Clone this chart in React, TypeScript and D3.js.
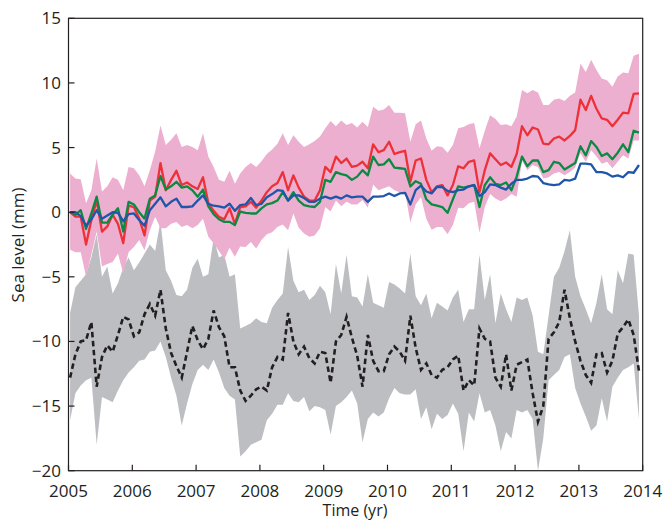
import React from "react";
import * as d3 from "d3";

// Monthly values, Jan 2005 .. Dec 2013 (108 months)
const red = [
  0, -0.35, -0.35, -2.5, -0.6, 0.9, -1.5, -1.1, -0.2, -0.9, -2.4, 0.5, 0.4, -0.5, -1.8, 0.9, 1.2, 3.8, 1.7, 2.5, 3.2, 2.1, 2.3, 2.0, 1.8, 2.7, 0.7, 0.1,
  -0.35, -0.55, 0.3, -0.9, 0.4, 0.45, 0.8, 0.35, 0.9, 1.55, 2.0, 2.25, 3.1, 1.7, 2.85, 1.9, 1.2, 0.9, 0.9, 1.7, 3.5, 3.1, 4.3, 3.8, 4.15, 3.5, 3.6,
  3.9, 3.4, 5.25, 4.65, 4.8, 5.45, 4.5, 4.65, 4.75, 2.35, 4.0, 4.15, 2.5, 1.55, 2.0, 2.1, 1.3, 2.1, 3.55, 3.4, 3.9, 4.0, 1.55, 3.25, 4.55, 4.1, 3.65, 3.85,
  3.5, 4.5, 6.65, 5.95, 6.55, 6.4, 5.3, 5.25, 5.7, 5.85, 5.55, 5.9, 6.35, 8.7, 7.9, 9.0, 8.0, 7.25, 7.15, 6.65, 7.15, 7.7, 7.65, 9.15, 9.2,
];
const green = [
  0, -0.2, 0.15, -1.3, -0.1, 1.2, -0.8, -0.8, -0.2, 0.3, -1.5, 0.8, 0.6, 0, -0.5, 1.05, 1.3, 2.8, 1.75, 2.0, 2.35, 1.9, 2.0, 1.7, 1.2, 1.75, 0.45, -0.15,
  -0.55, -0.75, -0.75, -1.0, 0.05, -0.05, -0.1, -0.1, 0.3, 0.6, 0.7, 0.9, 1.55, 0.9, 1.55, 0.9, 0.55, 0.45, 0.4, 0.8, 2.5, 2.35, 3.1, 2.95, 2.85, 2.5, 2.75,
  3.25, 2.85, 4.3, 3.65, 3.7, 4.1, 3.45, 3.4, 3.35, 2.0, 2.4, 2.2, 1.0, 0.6, 0.5, 0.4, -0.05, 1.0, 2.0, 1.9, 2.0, 2.1, 0.4, 2.1, 2.7, 2.2, 2.1, 2.3,
  1.7, 2.75, 4.3, 3.55, 4.0, 4.0, 3.1, 3.25, 3.9, 3.8, 3.3, 3.55, 3.8, 5.1, 4.4, 5.5, 5.05, 4.35, 4.55, 4.1, 4.6, 5.25, 4.65, 6.3, 6.15,
];
const blue = [
  0, 0, -0.3, -1.05, -0.55, 0.15, -0.5, -0.25, 0, -0.05, -0.7, -0.15, -0.1, -0.6, -1.05, 0.15, 0.65, 1.15, 0.45, 0.8, 1.05, 0.4, 0.4, 0.45, 0.9, 1.3, 0.65, 0.5,
  0.45, 0.35, 0.65, 0.1, 0.55, 0.6, 1.1, 0.55, 0.65, 1.15, 1.4, 1.7, 1.65, 0.9, 1.3, 1.3, 1.1, 0.8, 0.8, 1.05, 1.2, 1.05, 1.2, 1.05, 1.3, 1.15, 1.2,
  1.2, 0.8, 1.2, 1.2, 1.25, 1.45, 1.25, 1.45, 1.5, 0.6, 1.7, 2.05, 1.6, 1.45, 1.95, 1.95, 1.65, 1.55, 1.7, 1.75, 2.0, 2.1, 1.25, 1.55, 2.15, 2.1, 1.9, 1.75,
  2.2, 2.5, 2.5, 2.6, 2.8, 2.75, 2.25, 2.15, 2.1, 2.15, 2.5, 2.45, 2.6, 3.75, 3.75, 3.7, 3.1, 3.1, 3.0, 2.75, 2.85, 2.7, 3.1, 3.05, 3.65,
];
const pinkUpper = [
  3.0, 2.6, 2.55, 0.7, 1.7, 4.15, 1.6, 2.0, 2.7, 2.5, 1.7, 3.5, 3.4, 2.85, 2.0, 3.25, 4.7, 6.7, 5.2, 5.6, 6.1, 5.05, 5.2, 5.05, 4.8, 6.1, 4.3, 3.5,
  2.5, 2.35, 3.2, 2.2, 3.0, 3.5, 3.8, 3.5, 3.95, 4.5, 4.85, 5.3, 6.1, 5.2, 5.95, 5.45, 5.05, 5.25, 5.5, 5.85, 6.5, 7.05, 6.65, 7.1, 6.75, 6.9, 6.55,
  7.0, 6.6, 8.15, 7.85, 7.95, 8.3, 7.7, 7.7, 7.65, 5.45, 6.8, 7.1, 5.7, 4.75, 5.1, 5.05, 4.6, 5.2, 6.5, 6.6, 6.8, 6.9, 4.95, 6.3, 7.5, 7.2, 6.75, 6.8,
  6.65, 7.4, 9.45, 9.2, 9.45, 9.25, 8.3, 8.3, 8.7, 8.8, 8.6, 9.0, 9.25, 11.5, 10.85, 11.8, 11.0, 10.35, 10.2, 9.7, 10.5, 10.8, 10.75, 12.1, 12.25,
];
const pinkLower = [
  -2.9, -3.1, -3.1, -5.0, -3.3, -1.5, -4.2, -4.0, -3.85, -3.2, -4.75, -3.1, -2.7, -2.15, -2.95, -1.4, -0.35, -1.25, -1.25, -0.9, -0.75, -1.15, -1.0, -1.25, -1.0, -0.5, -1.9, -2.4,
  -3.0, -3.65, -2.75, -3.45, -2.65, -2.7, -2.3, -2.8, -2.15, -1.7, -1.55, -1.15, -0.95, -1.4, -0.1, -1.2, -1.65, -1.9, -1.8, -1.25, 0.4, 0.05, 0.9, 0.45, 0.8, 0.6, 0.6,
  0.95, 0.35, 2.15, 1.7, 1.85, 2.0, 1.7, 1.55, 1.55, -0.8, 0.6, 1.15, -0.5, -1.35, -1.15, -1.15, -1.7, -1.0, 0.35, 0.3, 0.7, 0.8, -1.6, 0.4, 1.4, 1.05, 0.85, 1.05,
  1.4, 1.2, 4.0, 3.25, 3.65, 3.5, 2.6, 2.7, 3.0, 3.1, 2.85, 3.1, 3.45, 4.55, 3.9, 4.8, 4.3, 3.75, 3.9, 3.4, 3.9, 4.4, 4.15, 5.55, 5.55,
];
const black = [
  -12.8, -11.0, -10.0, -9.9, -8.5, -13.5, -11.2, -10.3, -10.8, -9.5, -8.1, -8.3, -9.6, -9.3, -7.9, -7.1, -8.0, -6.0, -9.0, -10.9, -11.9, -12.8, -10.8, -8.8, -9.9, -10.6, -9.8, -7.6, -8.9, -9.6, -12.0, -12.0, -13.8, -14.6, -14.2, -13.7,
  -13.5, -13.8, -12.0, -11.2, -11.4, -7.8, -10.0, -11.0, -10.4, -11.3, -11.7, -10.8, -10.9, -13.2, -10.0, -9.5, -8.1, -9.7, -11.1, -13.5, -9.5, -11.5, -12.3, -12.3, -11.0, -10.4, -10.8, -11.5, -8.0, -10.5, -12.2, -11.7, -12.6, -12.8, -12.2, -12.0,
  -11.4, -11.1, -13.8, -13.0, -13.4, -9.0, -9.8, -10.0, -12.8, -13.5, -11.0, -13.8, -11.8, -11.6, -11.4, -14.0, -16.2, -15.0, -9.8, -9.3, -8.5, -6.0, -8.2, -10.0, -11.5, -12.6, -13.2, -11.0, -10.9, -12.4, -11.5, -9.4, -8.9, -8.3, -9.5, -12.3,
];
const greyUpper = [
  -7.8, -5.8, -5.3, -4.8, -3.5, -1.7, -5.0, -4.2, -6.3, -5.5, -4.3, -3.5, -4.5, -3.9, -3.2, -2.5, -3.0, -0.7, -4.5, -5.3, -6.4, -6.5, -6.0, -4.3, -3.6, -5.0, -4.8, -2.0, -3.5, -3.3, -5.0, -4.8, -9.0, -8.8, -8.6, -8.2,
  -8.5, -8.6, -7.4, -6.8, -6.3, -2.7, -5.3, -6.2, -6.0, -6.8, -6.4, -5.7, -6.2, -7.9, -4.0, -6.3, -3.3, -6.5, -6.6, -7.3, -4.8, -7.0, -7.2, -7.4, -5.4, -5.6, -5.9, -6.3, -3.2, -6.5, -7.2, -6.3, -8.2, -7.0, -7.3, -7.6,
  -6.6, -6.0, -8.5, -7.5, -7.5, -3.3, -6.8, -4.8, -8.6, -6.3, -7.5, -8.5, -6.6, -6.8, -6.6, -8.0, -10.8, -11.0, -8.0, -5.0, -4.3, -3.0, -1.4, -5.0, -6.5, -7.5, -8.6, -7.0, -4.8, -7.5, -7.9, -4.5, -5.5, -3.2, -3.3, -8.0,
];
const greyLower = [
  -16.1, -14.0, -13.4, -13.0, -12.8, -18.0, -14.3, -14.5, -14.7, -13.8, -13.0, -12.4, -12.0, -11.5, -11.4, -10.8, -10.7, -10.0, -11.2, -12.8, -14.2, -16.5, -14.8, -13.3, -12.2, -11.8, -12.2, -11.4, -12.4, -13.6, -14.2, -14.5, -18.9, -18.5, -18.0, -17.8,
  -17.6, -16.1, -15.6, -14.9, -14.9, -14.0, -14.6, -14.7, -14.3, -15.4, -15.0, -15.1, -15.3, -17.2, -15.0, -14.7, -14.3, -13.8, -14.8, -17.8, -16.0, -15.5, -15.8, -15.5, -14.4, -13.6, -14.0, -14.1, -14.1, -13.7, -16.0, -15.1, -16.8, -15.6, -16.0, -15.7,
  -14.8, -15.6, -18.5, -15.5, -16.2, -14.0, -15.5, -15.3, -16.5, -18.5, -17.0, -17.5, -15.3, -15.5, -15.3, -16.0, -20.0, -17.5, -13.0, -12.6, -12.2, -11.2, -11.0, -13.6, -14.8, -15.8, -16.9, -16.5, -14.4, -16.2, -13.5, -12.8, -12.2, -12.0, -11.7, -16.0,
];

const months = d3.range(red.length).map((m) => 2005 + (m + 0.3) / 12);
const xTicks = [2005, 2006, 2007, 2008, 2009, 2010, 2011, 2012, 2013, 2014];
const yTicks = [-20, -15, -10, -5, 0, 5, 10, 15];

const W = 664;
const H = 524;
const L = 68.5, R = 642.7, T = 18.3, B = 470.7;
const FONT = "'Open Sans', 'DejaVu Sans', sans-serif";
const AXIS = "#231f20";

export default function App() {
  const x = d3.scaleLinear().domain([2005, 2014]).range([L, R]);
  const y = d3.scaleLinear().domain([-20, 15]).range([B, T]);

  const area = (lo: number[], hi: number[]) =>
    d3
      .area<number>()
      .x((_, i) => x(months[i]))
      .y0((_, i) => y(lo[i]))
      .y1((_, i) => y(hi[i]))(months) || "";
  const line = (vals: number[]) =>
    d3
      .line<number>()
      .x((_, i) => x(months[i]))
      .y((d) => y(d))(vals) || "";

  return (
    <svg width={W} height={H} style={{ position: "absolute", left: 0, top: 0, background: "#fff" }}>
      <path d={area(greyLower, greyUpper)} fill="#bcbec1" />
      <path d={area(pinkLower, pinkUpper)} fill="#edafd0" />
      <path d={line(black)} fill="none" stroke="#231f20" strokeWidth={2.6} strokeDasharray="5.5,3.5" />
      <path d={line(red)} fill="none" stroke="#ee3138" strokeWidth={2.3} strokeLinejoin="round" />
      <path d={line(green)} fill="none" stroke="#0b8a43" strokeWidth={2.3} strokeLinejoin="round" />
      <path d={line(blue)} fill="none" stroke="#1f56a8" strokeWidth={2.3} strokeLinejoin="round" />

      <rect x={L} y={T} width={R - L} height={B - T} fill="none" stroke={AXIS} strokeWidth={1.2} />
      {xTicks.map((t) => (
        <g key={t}>
          <line x1={x(t)} x2={x(t)} y1={B} y2={B - 6} stroke={AXIS} strokeWidth={1.2} />
          <text x={x(t)} y={497} textAnchor="middle" fontFamily={FONT} fontSize={17} fill={AXIS}>
            {t}
          </text>
        </g>
      ))}
      {yTicks.map((v) => (
        <g key={v}>
          <line x1={L} x2={L + 6} y1={y(v)} y2={y(v)} stroke={AXIS} strokeWidth={1.2} />
          <text x={61} y={y(v) + 6} textAnchor="end" fontFamily={FONT} fontSize={17} fill={AXIS}>
            {v < 0 ? "\u2212" + Math.abs(v) : v}
          </text>
        </g>
      ))}
      <text x={355} y={516} textAnchor="middle" fontFamily={FONT} fontSize={16} fill={AXIS}>
        Time (yr)
      </text>
      <text
        transform={`translate(24,245) rotate(-90)`}
        textAnchor="middle"
        fontFamily={FONT}
        fontSize={17}
        fill={AXIS}
      >
        Sea level (mm)
      </text>
    </svg>
  );
}
